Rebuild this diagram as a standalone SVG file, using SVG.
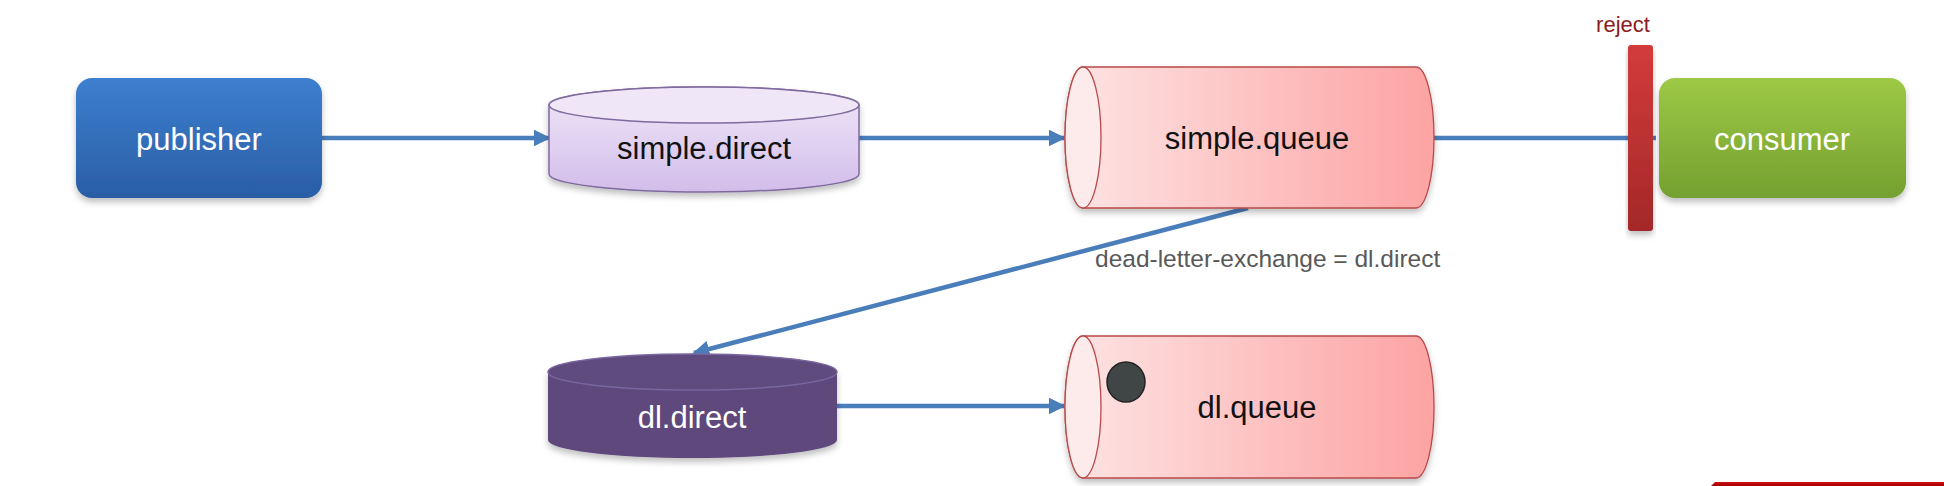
<svg xmlns="http://www.w3.org/2000/svg" width="1944" height="486" viewBox="0 0 1944 486">
<style>
.lbl{font-family:"Liberation Sans",Arial,sans-serif;font-size:31px;text-anchor:middle}
.w{fill:#ffffff}
.k{fill:#111111}
.conn{stroke:#4a7ebb;stroke-width:4.5;fill:none}
</style>
<defs>
<linearGradient id="gPub" x1="0" y1="0" x2="0" y2="1"><stop offset="0" stop-color="#3d7fcf"/><stop offset="1" stop-color="#2a5ea5"/></linearGradient>
<linearGradient id="gCon" x1="0" y1="0" x2="0" y2="1"><stop offset="0" stop-color="#9dc946"/><stop offset="1" stop-color="#74a030"/></linearGradient>
<linearGradient id="gSd" x1="0" y1="0" x2="0" y2="1"><stop offset="0" stop-color="#f0e8f8"/><stop offset="1" stop-color="#d2bdea"/></linearGradient>
<linearGradient id="gQ" x1="0" y1="0" x2="1" y2="0"><stop offset="0" stop-color="#fde4e4"/><stop offset="1" stop-color="#fda3a3"/></linearGradient>
<linearGradient id="gRej" x1="0" y1="0" x2="0" y2="1"><stop offset="0" stop-color="#d33b3b"/><stop offset="1" stop-color="#a42828"/></linearGradient>
<linearGradient id="gBar" x1="0" y1="0" x2="0" y2="1"><stop offset="0" stop-color="#d01010"/><stop offset="1" stop-color="#a00000"/></linearGradient>
<filter id="sh" x="-10%" y="-10%" width="120%" height="130%"><feDropShadow dx="0" dy="4" stdDeviation="3" flood-color="#000" flood-opacity="0.25"/></filter>
<marker id="arrB" viewBox="0 0 10 10" refX="9" refY="5" markerWidth="17" markerHeight="17" orient="auto" markerUnits="userSpaceOnUse"><path d="M0,0 L10,5 L0,10 Z" fill="#4a7ebb"/></marker>
</defs>
<rect width="1944" height="486" fill="#ffffff"/>

<g id="connectors">
<line class="conn" x1="322" y1="138" x2="549" y2="138" marker-end="url(#arrB)"/>
<line class="conn" x1="859" y1="138" x2="1064" y2="138" marker-end="url(#arrB)"/>
<line class="conn" x1="1434" y1="138" x2="1656" y2="138"/>
<line class="conn" x1="1248" y1="208" x2="694" y2="353" marker-end="url(#arrB)"/>
<line class="conn" x1="837" y1="406" x2="1064" y2="406" marker-end="url(#arrB)"/>
<text x="1095" y="267" style="font-family:'Liberation Sans',Arial,sans-serif;font-size:24.5px;fill:#595959">dead-letter-exchange = dl.direct</text>
</g>

<g id="publisher">
<rect x="76" y="78" width="246" height="120" rx="16" fill="url(#gPub)" filter="url(#sh)"/>
<text class="lbl w" x="199" y="150">publisher</text>
</g>

<g id="simple.direct">
<path d="M549,105 A155,18 0 0 1 859,105 V174 A155,18 0 0 1 549,174 Z" fill="url(#gSd)" stroke="#7f6a9e" stroke-width="1.5" filter="url(#sh)"/>
<ellipse cx="704" cy="105" rx="155" ry="18" fill="#efe7f7" stroke="#7f6a9e" stroke-width="1.5"/>
<text class="lbl k" x="704" y="159">simple.direct</text>
</g>

<g id="simple.queue">
<path d="M1083,67 H1416 A18,70.5 0 0 1 1416,208 H1083 A18,70.5 0 0 1 1083,67 Z" fill="url(#gQ)" stroke="#b94a4a" stroke-width="1.3" filter="url(#sh)"/>
<ellipse cx="1083" cy="137.5" rx="18" ry="70.5" fill="#fdeaea" stroke="#b94a4a" stroke-width="1.3"/>
<text class="lbl k" x="1257" y="149">simple.queue</text>
</g>

<g id="reject">
<rect x="1628" y="45" width="25" height="186" rx="3" fill="url(#gRej)" filter="url(#sh)"/>
<text x="1623" y="32" style="font-family:'Liberation Sans',Arial,sans-serif;font-size:22px;fill:#8b1c1c;text-anchor:middle">reject</text>
</g>

<g id="consumer">
<rect x="1659" y="78" width="247" height="120" rx="16" fill="url(#gCon)" filter="url(#sh)"/>
<text class="lbl w" x="1782" y="150">consumer</text>
</g>

<g id="dl.direct">
<path d="M548,372 A144.5,18 0 0 1 837,372 V440 A144.5,18 0 0 1 548,440 Z" fill="#5e4a7c" filter="url(#sh)"/>
<ellipse cx="692.5" cy="372" rx="144.5" ry="18" fill="#5f4b7e" stroke="#7a66a0" stroke-width="1.5"/>
<text class="lbl w" x="692" y="428">dl.direct</text>
</g>

<g id="dl.queue">
<path d="M1083,336 H1416 A18,71 0 0 1 1416,478 H1083 A18,71 0 0 1 1083,336 Z" fill="url(#gQ)" stroke="#b94a4a" stroke-width="1.3" filter="url(#sh)"/>
<ellipse cx="1083" cy="407" rx="18" ry="71" fill="#fdeaea" stroke="#b94a4a" stroke-width="1.3"/>
<ellipse cx="1126" cy="382" rx="19" ry="20" fill="#404545" stroke="#222222" stroke-width="1.5"/>
<text class="lbl k" x="1257" y="418">dl.queue</text>
</g>

<polygon points="1715,482 1944,482 1944,486 1711,486" fill="url(#gBar)"/>
</svg>
